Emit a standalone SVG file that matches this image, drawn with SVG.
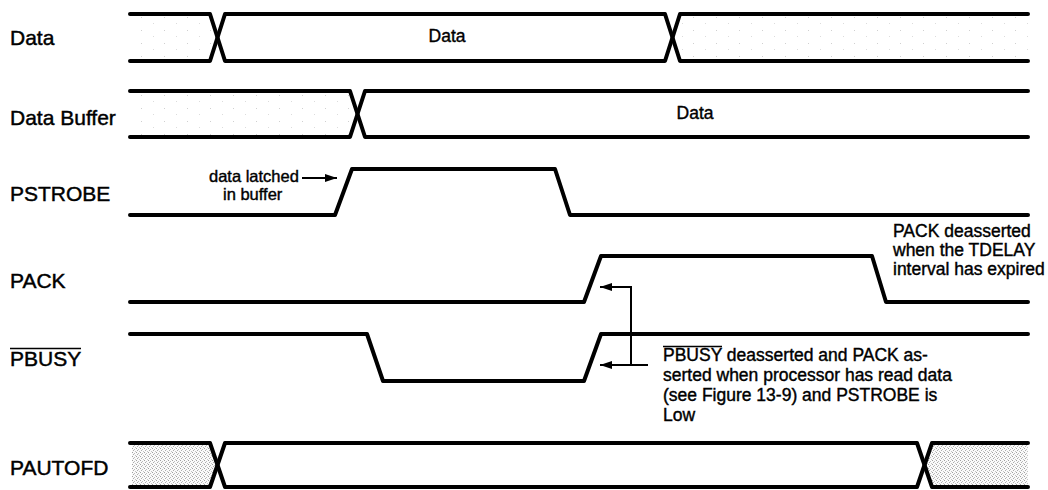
<svg xmlns="http://www.w3.org/2000/svg" width="1048" height="490" viewBox="0 0 1048 490">
<defs>
<pattern id="faint" width="23" height="13" patternUnits="userSpaceOnUse">
<rect x="3" y="4" width="1" height="1" fill="#d0d0d0"/>
<rect x="15" y="10" width="1" height="1" fill="#dcdcdc"/>
</pattern>
<pattern id="dense" width="4" height="4" patternUnits="userSpaceOnUse">
<rect width="4" height="4" fill="#fafafa"/>
<rect x="0" y="0" width="1" height="1" fill="#a0a0a0"/>
<rect x="2" y="1" width="1" height="1" fill="#bcbcbc"/>
<rect x="1" y="2" width="1" height="1" fill="#acacac"/>
<rect x="3" y="3" width="1" height="1" fill="#c4c4c4"/>
</pattern>
<marker id="ah" viewBox="0 0 12 8" refX="12" refY="4" markerWidth="12" markerHeight="8" markerUnits="userSpaceOnUse" orient="auto">
<path d="M0,0 L12,4 L0,8 Z" fill="#000"/>
</marker>
</defs>
<style>
.sig{fill:none;stroke:#000;stroke-width:4;stroke-linecap:round;stroke-linejoin:round}
.lbl{font-family:"Liberation Sans",Arial,sans-serif;font-size:21px;fill:#000;stroke:#000;stroke-width:0.45}
.txt{font-family:"Liberation Sans",Arial,sans-serif;font-size:17.5px;fill:#000;stroke:#000;stroke-width:0.4}
.sm{font-size:16.5px}
.con{fill:none;stroke:#000;stroke-width:2}
</style>
<rect width="1048" height="490" fill="#fff"/>

<g id="data">
<polygon points="132,16 210,16 217,37 210,59 132,59" fill="url(#faint)"/>
<polygon points="680,16 1028,16 1028,59 680,59 673,37" fill="url(#faint)"/>
<polyline class="sig" points="130,14 210,14 225,61 665,61 680,14 1028,14"/>
<polyline class="sig" points="130,61 210,61 225,14 665,14 680,61 1028,61"/>
<text class="lbl" x="10" y="45">Data</text>
<text class="txt" x="447" y="42" text-anchor="middle">Data</text>
</g>

<g id="data-buffer">
<polygon points="132,93 350,93 357,114 350,135 132,135" fill="url(#faint)"/>
<polyline class="sig" points="130,91 350,91 365,137 1028,137"/>
<polyline class="sig" points="130,137 350,137 365,91 1028,91"/>
<text class="lbl" x="10" y="125">Data Buffer</text>
<text class="txt" x="695" y="119" text-anchor="middle">Data</text>
</g>

<g id="pstrobe">
<polyline class="sig" points="130,215 335,215 352,169 555,169 570,215 1028,215"/>
<text class="lbl" x="10" y="201">PSTROBE</text>
<text class="txt sm" x="209" y="182">data latched</text>
<text class="txt sm" x="223" y="200">in buffer</text>
</g>

<g id="pack">
<polyline class="sig" points="130,302 584,302 601,256 872,256 886,302 1028,302"/>
<text class="lbl" x="10" y="288">PACK</text>
<text class="txt" x="893" y="237">PACK deasserted</text>
<text class="txt" x="893" y="256">when the TDELAY</text>
<text class="txt" x="893" y="275">interval has expired</text>
</g>

<g id="pbusy">
<polyline class="sig" points="130,334 367,334 383,381 584,381 601,334 1028,334"/>
<text class="lbl" x="10" y="366">PBUSY</text>
<line x1="10" y1="348.5" x2="81" y2="348.5" stroke="#000" stroke-width="1.6"/>
<text class="txt" x="663" y="361">PBUSY deasserted and PACK as-</text>
<line x1="663" y1="346.5" x2="722" y2="346.5" stroke="#000" stroke-width="1.4"/>
<text class="txt" x="663" y="381">serted when processor has read data</text>
<text class="txt" x="663" y="401">(see Figure 13-9) and PSTROBE is</text>
<text class="txt" x="663" y="421">Low</text>
</g>

<g id="pautofd">
<polygon points="132,445 210,445 217,465 210,485 132,485" fill="url(#dense)"/>
<polygon points="932,445 1028,445 1028,485 932,485 925,465" fill="url(#dense)"/>
<polyline class="sig" points="130,443 210,443 225,487 917,487 932,443 1028,443"/>
<polyline class="sig" points="130,487 210,487 225,443 917,443 932,487 1028,487"/>
<text class="lbl" x="10" y="475">PAUTOFD</text>
</g>

<g id="connectors">
<line class="con" x1="302" y1="178" x2="337" y2="178" marker-end="url(#ah)"/>
<polyline class="con" points="631,365 631,287 600,287" marker-end="url(#ah)"/>
<line class="con" x1="648" y1="365" x2="600" y2="365" marker-end="url(#ah)"/>
</g>
</svg>
